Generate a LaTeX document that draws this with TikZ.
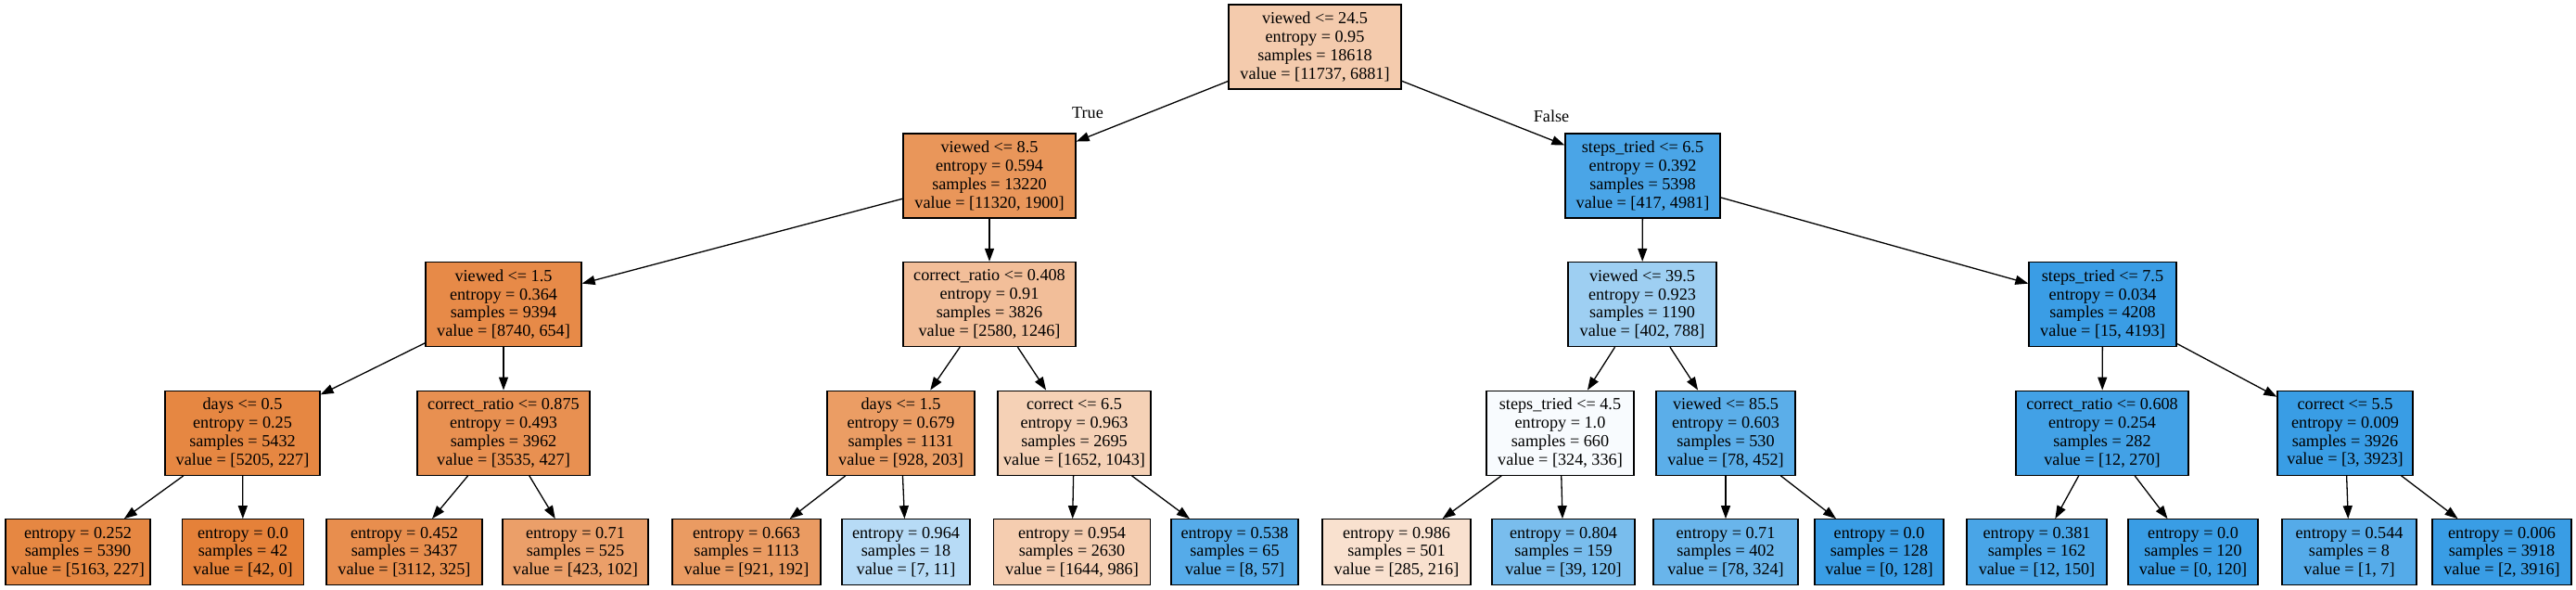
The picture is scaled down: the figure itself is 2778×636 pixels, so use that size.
\documentclass[tikz,border=0pt]{standalone}
\usepackage{fontspec}
\setmainfont{Liberation Serif}
\usetikzlibrary{arrows.meta}
\definecolor{orng}{RGB}{229,129,57}
\definecolor{blu}{RGB}{57,157,229}
\tikzset{
  tnode/.style={draw=black, line width=1.3pt, rectangle, align=center, inner sep=1pt,
    minimum height=91pt, font=\fontsize{18.2}{19.8}\selectfont},
  leafnode/.style={tnode, minimum height=71pt},
  tedge/.style={-{Triangle[length=14pt,width=10pt]}, line width=1.3pt},
  elabel/.style={font=\fontsize{18.2}{19.8}\selectfont, inner sep=0pt}
}
\begin{document}
\begin{tikzpicture}[x=1pt,y=-1pt]
\useasboundingbox (0,0) rectangle (2778,636);
% level 0
\node[tnode, minimum width=186pt, fill=orng!41.4] (r) at (1418,50.5) {viewed <= 24.5\\entropy = 0.95\\samples = 18618\\value = [11737, 6881]};
% level 1
\node[tnode, minimum width=186pt, fill=orng!83.2] (a) at (1067,189.5) {viewed <= 8.5\\entropy = 0.594\\samples = 13220\\value = [11320, 1900]};
\node[tnode, minimum width=167pt, fill=blu!91.6] (b) at (1771.5,189.5) {steps\_tried <= 6.5\\entropy = 0.392\\samples = 5398\\value = [417, 4981]};
% level 2
\node[tnode, minimum width=168pt, fill=orng!92.5] (aa) at (543,328) {viewed <= 1.5\\entropy = 0.364\\samples = 9394\\value = [8740, 654]};
\node[tnode, minimum width=186pt, fill=orng!51.7] (ab) at (1067,328) {correct\_ratio <= 0.408\\entropy = 0.91\\samples = 3826\\value = [2580, 1246]};
\node[tnode, minimum width=160pt, fill=blu!49.0] (ba) at (1771,328) {viewed <= 39.5\\entropy = 0.923\\samples = 1190\\value = [402, 788]};
\node[tnode, minimum width=159pt, fill=blu!99.6] (bb) at (2267.5,328) {steps\_tried <= 7.5\\entropy = 0.034\\samples = 4208\\value = [15, 4193]};
% level 3
\node[tnode, minimum width=167pt, fill=orng!95.6] (aaa) at (261.5,466.7) {days <= 0.5\\entropy = 0.25\\samples = 5432\\value = [5205, 227]};
\node[tnode, minimum width=186pt, fill=orng!87.9] (aab) at (543,466.7) {correct\_ratio <= 0.875\\entropy = 0.493\\samples = 3962\\value = [3535, 427]};
\node[tnode, minimum width=159pt, fill=orng!78.1] (aba) at (971.5,466.7) {days <= 1.5\\entropy = 0.679\\samples = 1131\\value = [928, 203]};
\node[tnode, minimum width=165pt, fill=orng!36.9] (abb) at (1158.5,466.7) {correct <= 6.5\\entropy = 0.963\\samples = 2695\\value = [1652, 1043]};
\node[tnode, minimum width=159pt, fill=blu!3.6] (baa) at (1682.5,466.7) {steps\_tried <= 4.5\\entropy = 1.0\\samples = 660\\value = [324, 336]};
\node[tnode, minimum width=150pt, fill=blu!82.7] (bab) at (1861,466.7) {viewed <= 85.5\\entropy = 0.603\\samples = 530\\value = [78, 452]};
\node[tnode, minimum width=186pt, fill=blu!95.6] (bba) at (2267,466.7) {correct\_ratio <= 0.608\\entropy = 0.254\\samples = 282\\value = [12, 270]};
\node[tnode, minimum width=146pt, fill=blu!99.9] (bbb) at (2529,466.7) {correct <= 5.5\\entropy = 0.009\\samples = 3926\\value = [3, 3923]};
% leaves
\node[leafnode, minimum width=156pt, fill=orng!95.6] (l1) at (84,595.3) {entropy = 0.252\\samples = 5390\\value = [5163, 227]};
\node[leafnode, minimum width=131pt, fill=orng!100] (l2) at (262,595.3) {entropy = 0.0\\samples = 42\\value = [42, 0]};
\node[leafnode, minimum width=168pt, fill=orng!89.6] (l3) at (436,595.3) {entropy = 0.452\\samples = 3437\\value = [3112, 325]};
\node[leafnode, minimum width=157pt, fill=orng!75.9] (l4) at (620.5,595.3) {entropy = 0.71\\samples = 525\\value = [423, 102]};
\node[leafnode, minimum width=160pt, fill=orng!79.2] (l5) at (805,595.3) {entropy = 0.663\\samples = 1113\\value = [921, 192]};
\node[leafnode, minimum width=138pt, fill=blu!36.4] (l6) at (977,595.3) {entropy = 0.964\\samples = 18\\value = [7, 11]};
\node[leafnode, minimum width=169pt, fill=orng!40.0] (l7) at (1156,595.3) {entropy = 0.954\\samples = 2630\\value = [1644, 986]};
\node[leafnode, minimum width=137pt, fill=blu!86.0] (l8) at (1331.5,595.3) {entropy = 0.538\\samples = 65\\value = [8, 57]};
\node[leafnode, minimum width=160pt, fill=orng!24.2] (l9) at (1506,595.3) {entropy = 0.986\\samples = 501\\value = [285, 216]};
\node[leafnode, minimum width=154pt, fill=blu!67.5] (l10) at (1686,595.3) {entropy = 0.804\\samples = 159\\value = [39, 120]};
\node[leafnode, minimum width=156pt, fill=blu!75.9] (l11) at (1861,595.3) {entropy = 0.71\\samples = 402\\value = [78, 324]};
\node[leafnode, minimum width=139pt, fill=blu!100] (l12) at (2026.5,595.3) {entropy = 0.0\\samples = 128\\value = [0, 128]};
\node[leafnode, minimum width=151pt, fill=blu!92.0] (l13) at (2196.5,595.3) {entropy = 0.381\\samples = 162\\value = [12, 150]};
\node[leafnode, minimum width=140pt, fill=blu!100] (l14) at (2365,595.3) {entropy = 0.0\\samples = 120\\value = [0, 120]};
\node[leafnode, minimum width=145pt, fill=blu!85.7] (l15) at (2533.5,595.3) {entropy = 0.544\\samples = 8\\value = [1, 7]};
\node[leafnode, minimum width=150pt, fill=blu!99.9] (l16) at (2698,595.3) {entropy = 0.006\\samples = 3918\\value = [2, 3916]};
% edges
\draw[tedge] (r) -- (a);
\draw[tedge] (r) -- (b);
\draw[tedge] (a) -- (aa);
\draw[tedge] (a) -- (ab);
\draw[tedge] (b) -- (ba);
\draw[tedge] (b) -- (bb);
\draw[tedge] (aa) -- (aaa);
\draw[tedge] (aa) -- (aab);
\draw[tedge] (ab) -- (aba);
\draw[tedge] (ab) -- (abb);
\draw[tedge] (ba) -- (baa);
\draw[tedge] (ba) -- (bab);
\draw[tedge] (bb) -- (bba);
\draw[tedge] (bb) -- (bbb);
\draw[tedge] (aaa) -- (l1);
\draw[tedge] (aaa) -- (l2);
\draw[tedge] (aab) -- (l3);
\draw[tedge] (aab) -- (l4);
\draw[tedge] (aba) -- (l5);
\draw[tedge] (aba) -- (l6);
\draw[tedge] (abb) -- (l7);
\draw[tedge] (abb) -- (l8);
\draw[tedge] (baa) -- (l9);
\draw[tedge] (baa) -- (l10);
\draw[tedge] (bab) -- (l11);
\draw[tedge] (bab) -- (l12);
\draw[tedge] (bba) -- (l13);
\draw[tedge] (bba) -- (l14);
\draw[tedge] (bbb) -- (l15);
\draw[tedge] (bbb) -- (l16);
% edge labels
\node[elabel] (tl) at (1173,122) {True};
\node[elabel] (fl) at (1673,125) {False};
\end{tikzpicture}
\end{document}
